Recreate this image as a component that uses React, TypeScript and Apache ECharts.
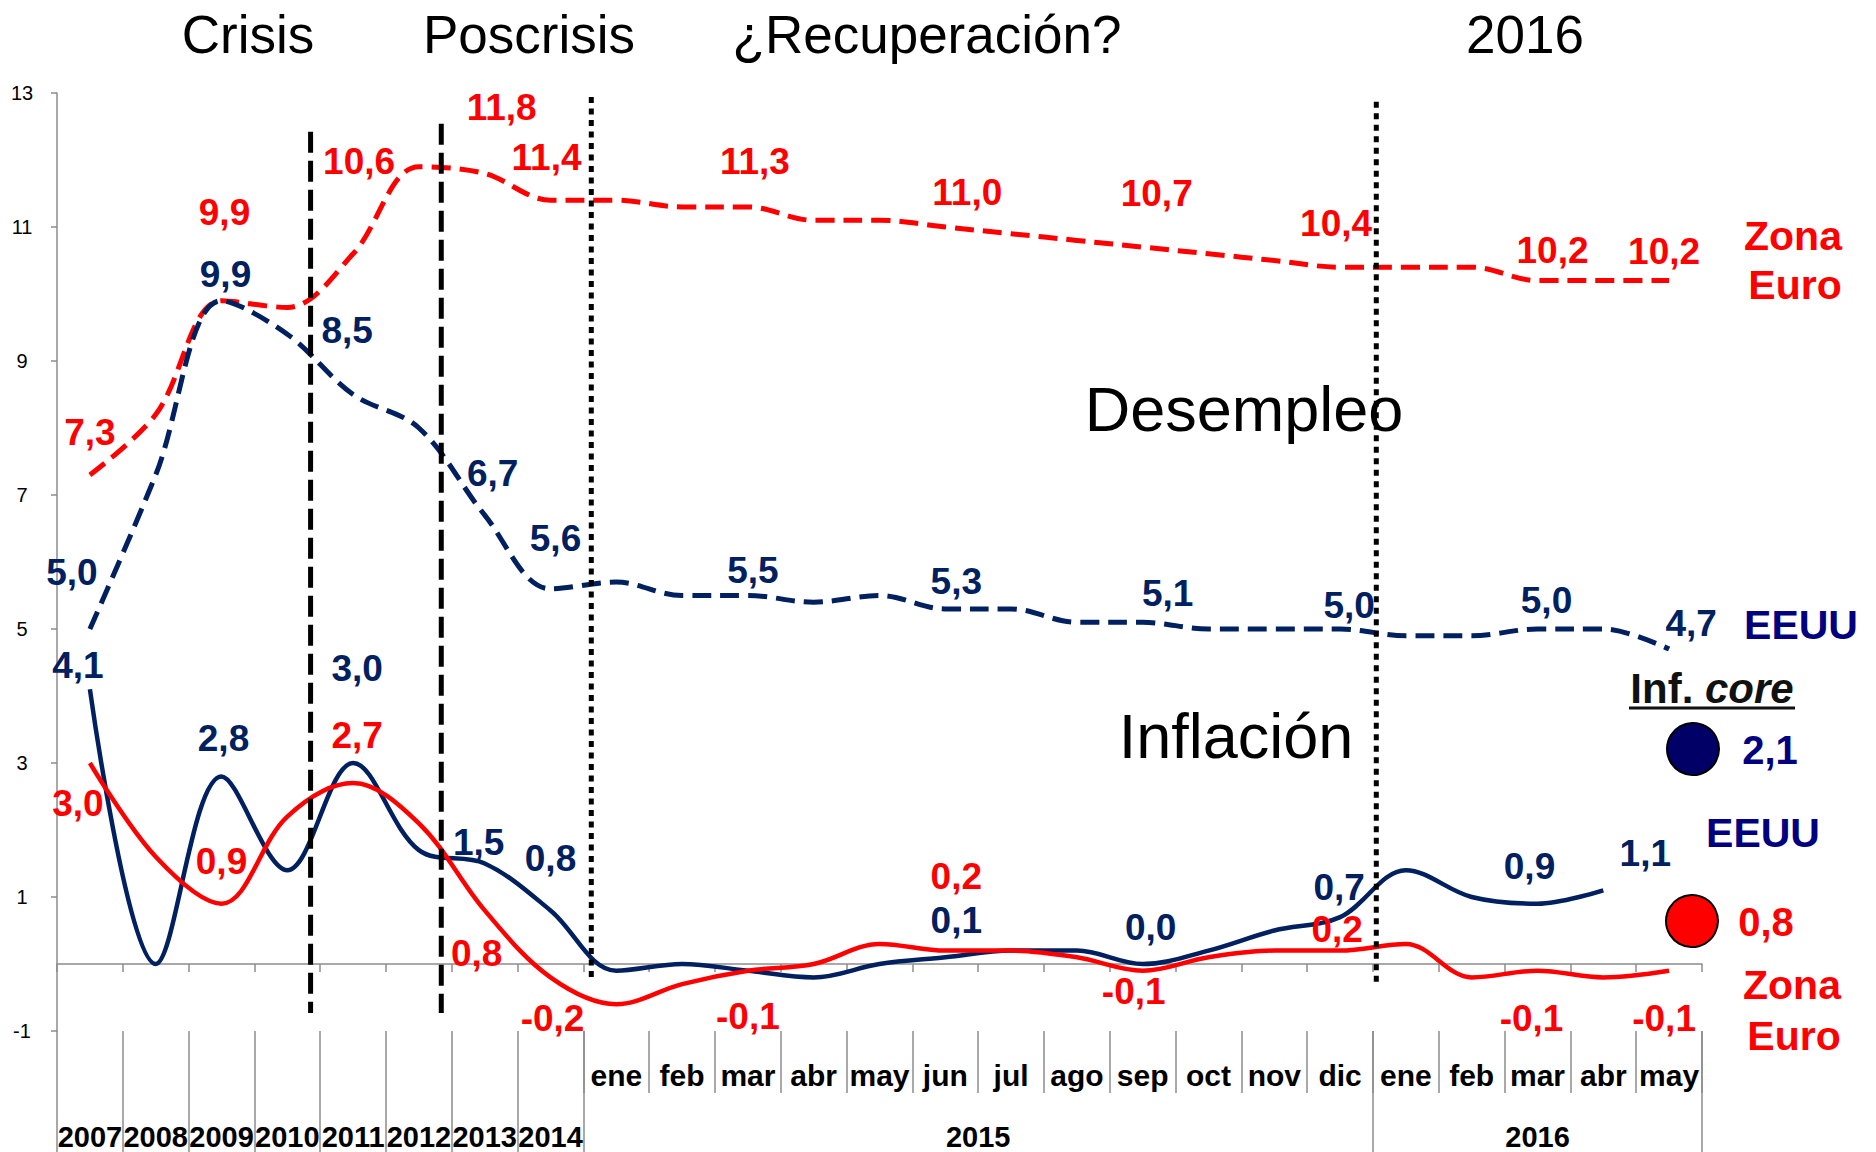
import React, { useEffect, useRef } from 'react';
import * as echarts from 'echarts';

// ---------- categories & tick labels ----------
const yearCategories = ['2007', '2008', '2009', '2010', '2011', '2012', '2013', '2014'];
const months2015 = ['ene', 'feb', 'mar', 'abr', 'may', 'jun', 'jul', 'ago', 'sep', 'oct', 'nov', 'dic'];
const months2016 = ['ene', 'feb', 'mar', 'abr', 'may'];
const categoryKeys = [
  ...yearCategories,
  ...months2015.map((m) => m + ' 2015'),
  ...months2016.map((m) => m + ' 2016'),
];
const monthRowLabels = [...yearCategories.map(() => ''), ...months2015, ...months2016];
const yearRowLabels = ['2007', '2008', '2009', '2010', '2011', '2012', '2013', '2014', '2015', '2016'];
const yearRowPositions = [0, 1, 2, 3, 4, 5, 6, 7, 13.5, 22];
const yTickValues = [-1, 1, 3, 5, 7, 9, 11, 13];

// ---------- series values ----------
const unemploymentEuro = [7.3, 8.2, 9.9, 9.8, 10.6, 11.9, 11.8, 11.4, 11.4, 11.3, 11.3, 11.1, 11.1, 11.0, 10.9, 10.8, 10.7, 10.6, 10.5, 10.4, 10.4, 10.4, 10.2, 10.2, 10.2];
const unemploymentUS = [5.0, 7.3, 9.9, 9.4, 8.5, 8.0, 6.7, 5.6, 5.7, 5.5, 5.5, 5.4, 5.5, 5.3, 5.3, 5.1, 5.1, 5.0, 5.0, 5.0, 4.9, 4.9, 5.0, 5.0, 4.7];
const inflationUS = [4.1, 0.0, 2.8, 1.4, 3.0, 1.7, 1.5, 0.8, -0.1, 0.0, -0.1, -0.2, 0.0, 0.1, 0.2, 0.2, 0.0, 0.2, 0.5, 0.7, 1.4, 1.0, 0.9, 1.1, null];
const inflationEuro = [3.0, 1.6, 0.9, 2.2, 2.7, 2.1, 0.8, -0.2, -0.6, -0.3, -0.1, 0.0, 0.3, 0.2, 0.2, 0.1, -0.1, 0.1, 0.2, 0.2, 0.3, -0.2, -0.1, -0.2, -0.1];

// ---------- label placement (index -> pixel offset) ----------
const labelOffsetsUnempEuro: Record<number, [number, number]> = {
  0: [0, -42], 2: [3, -88], 4: [6, -92], 6: [17, -66], 7: [-4, -43], 10: [7, -45],
  13: [22, -35], 16: [14, -54], 19: [-4, -44], 22: [15, -30], 24: [-5, -29],
};
const labelOffsetsUnempUS: Record<number, [number, number]> = {
  0: [-18, -57], 2: [4, -26], 4: [-6, -64], 6: [8, -42], 7: [5, -50], 10: [5, -25],
  13: [11, -27], 16: [25, -29], 19: [9, -24], 22: [9, -29], 24: [22, -26],
};
const labelOffsetsInflUS: Record<number, [number, number]> = {
  0: [-12, -24], 2: [2, -38], 4: [4, -95], 6: [-6, -21], 7: [0, -52],
  13: [11, -37], 16: [8, -37], 19: [-1, -30], 22: [-8, -37], 23: [42, -37],
};
const labelOffsetsInflEuro: Record<number, [number, number]> = {
  0: [-12, 40], 2: [0, -42], 4: [4, -48], 6: [-8, 43], 7: [2, 41], 10: [0, 46],
  13: [11, -74], 16: [-9, 21], 19: [-3, -21], 22: [-6, 48], 24: [-5, 48],
};

// ---------- period dividers (x in category-index units, y in value units) ----------
const periodDividers = [
  { x: 3.354, top: 12.42, bottom: -0.73, kind: 'dashed' },
  { x: 5.34, top: 12.54, bottom: -0.73, kind: 'dashed' },
  { x: 7.62, top: 12.94, bottom: -0.22, kind: 'dotted' },
  { x: 19.55, top: 12.87, bottom: -0.28, kind: 'dotted' },
];

const RED = '#FF0000';
const NAVY = '#002060';
const NAVY2 = '#000080';
const GRAY = '#8c8c8c';
const FONT = 'Liberation Sans, Arial, sans-serif';

const fmt = (v: number) => v.toFixed(1).replace('.', ',');

function buildData(values: (number | null)[], offsets: Record<number, [number, number]>) {
  return values.map((v, i) => {
    if (v === null) return '-';
    if (offsets[i]) return { value: v, label: { show: true, offset: offsets[i] } };
    return v;
  });
}

function lineSeries(name: string, values: (number | null)[], offsets: Record<number, [number, number]>, color: string, dashed: boolean) {
  return {
    name,
    type: 'line',
    xAxisIndex: 0,
    yAxisIndex: 0,
    data: buildData(values, offsets),
    smooth: 0.35,
    symbol: 'circle',
    symbolSize: 2,
    showSymbol: true,
    showAllSymbol: true,
    silent: true,
    itemStyle: { color: 'rgba(0,0,0,0)' },
    lineStyle: dashed ? { color, width: 5, type: [19, 9] } : { color, width: 4.5 },
    label: {
      show: false,
      position: 'inside',
      formatter: (p: any) => fmt(Number(p.value)),
      fontFamily: FONT,
      fontWeight: 'bold',
      fontSize: 37,
      color,
      textBorderWidth: 0,
      textBorderColor: 'transparent',
    },
    emphasis: { disabled: true },
    z: 3,
  };
}

const dividerSeries = periodDividers.map((d) => ({
  type: 'line',
  xAxisIndex: 3,
  yAxisIndex: 0,
  data: [[d.x, d.top], [d.x, d.bottom]],
  symbol: 'none',
  showSymbol: false,
  silent: true,
  lineStyle:
    d.kind === 'dashed'
      ? { color: '#000', width: 5, type: [21, 8] }
      : { color: '#000', width: 5, type: [6, 5.5] },
  emphasis: { disabled: true },
  z: 4,
}));

const txt = (text: string, x: number, y: number, size: number, color: string, weight = 'normal') => ({
  type: 'text',
  x,
  y,
  silent: true,
  style: {
    text,
    fill: color,
    fontSize: size,
    fontFamily: FONT,
    fontWeight: weight,
    align: 'center',
    verticalAlign: 'middle',
  },
});

const option: any = {
  animation: false,
  backgroundColor: '#fff',
  grid: { left: 57, right: 174, top: 93, bottom: 121, containLabel: false, outerBoundsMode: 'none' },
  xAxis: [
    {
      type: 'category',
      data: categoryKeys,
      boundaryGap: true,
      axisLine: { show: true, onZero: true, lineStyle: { color: GRAY, width: 1.5 } },
      axisTick: { show: true, length: 8, interval: 0, lineStyle: { color: GRAY, width: 1.5 } },
      axisLabel: { show: false },
      splitLine: { show: false },
    },
    {
      type: 'category',
      data: categoryKeys,
      position: 'bottom',
      boundaryGap: true,
      axisLine: { show: false, onZero: false },
      axisTick: { show: true, length: 62, interval: (i: number) => i >= 8, lineStyle: { color: GRAY, width: 1.5 } },
      axisLabel: {
        show: true,
        interval: 0,
        margin: 29,
        formatter: (_v: string, i: number) => monthRowLabels[i],
        fontFamily: FONT,
        fontWeight: 'bold',
        fontSize: 30,
        lineHeight: 30,
        color: '#000',
      },
      splitLine: { show: false },
    },
    {
      type: 'category',
      data: categoryKeys,
      position: 'bottom',
      boundaryGap: true,
      axisLine: { show: false, onZero: false },
      axisTick: { show: true, length: 121, interval: (i: number) => i <= 8 || i === 20, lineStyle: { color: GRAY, width: 1.5 } },
      axisLabel: { show: false },
      splitLine: { show: false },
    },
    {
      type: 'value',
      min: -0.5,
      max: 24.5,
      position: 'bottom',
      axisLine: { show: false, onZero: false },
      axisTick: { show: false },
      splitLine: { show: false },
      axisLabel: {
        show: true,
        customValues: yearRowPositions,
        showMinLabel: true,
        showMaxLabel: true,
        hideOverlap: false,
        margin: 91,
        formatter: (v: number) => {
          const i = yearRowPositions.findIndex((p) => Math.abs(p - v) < 1e-6);
          return i >= 0 ? yearRowLabels[i] : '';
        },
        fontFamily: FONT,
        fontWeight: 'bold',
        fontSize: 29,
        lineHeight: 29,
        color: '#000',
      },
    },
  ],
  yAxis: [
    {
      type: 'value',
      min: -1,
      max: 13,
      interval: 1,
      axisLine: { show: true, onZero: false, lineStyle: { color: GRAY, width: 1.5 } },
      axisTick: { show: true, length: 6, customValues: yTickValues, lineStyle: { color: GRAY, width: 1.5 } },
      axisLabel: {
        show: true,
        customValues: yTickValues,
        showMinLabel: true,
        showMaxLabel: true,
        margin: 35,
        align: 'center',
        fontFamily: FONT,
        fontSize: 20,
        color: '#000',
      },
      splitLine: { show: false },
    },
  ],
  series: [
    lineSeries('Desempleo Zona Euro', unemploymentEuro, labelOffsetsUnempEuro, RED, true),
    lineSeries('Desempleo EEUU', unemploymentUS, labelOffsetsUnempUS, NAVY, true),
    lineSeries('Inflación EEUU', inflationUS, labelOffsetsInflUS, NAVY, false),
    lineSeries('Inflación Zona Euro', inflationEuro, labelOffsetsInflEuro, RED, false),
    ...dividerSeries,
  ],
  graphic: [
    txt('Crisis', 248, 34, 53, '#000'),
    txt('Poscrisis', 529, 34, 53, '#000'),
    txt('¿Recuperación?', 927, 34, 53, '#000'),
    txt('2016', 1525, 34, 53, '#000'),
    txt('Desempleo', 1244, 409, 63, '#000'),
    txt('Inflación', 1236, 736, 63, '#000'),
    txt('Zona', 1793, 236, 41, RED, 'bold'),
    txt('Euro', 1795, 285, 41, RED, 'bold'),
    txt('EEUU', 1801, 625, 41, NAVY2, 'bold'),
    {
      type: 'text',
      x: 1712,
      y: 688,
      silent: true,
      style: {
        text: '{a|Inf. }{b|core}',
        align: 'center',
        verticalAlign: 'middle',
        rich: {
          a: { fontFamily: FONT, fontWeight: 'bold', fontSize: 42, fill: '#111', color: '#111' },
          b: { fontFamily: FONT, fontWeight: 'bold', fontStyle: 'italic', fontSize: 42, fill: '#111', color: '#111' },
        },
      },
    },
    { type: 'line', silent: true, shape: { x1: 1629, y1: 708, x2: 1795, y2: 708 }, style: { stroke: '#111', lineWidth: 3 } },
    { type: 'circle', silent: true, shape: { cx: 1693, cy: 749, r: 26 }, style: { fill: '#000066', stroke: '#000', lineWidth: 2 } },
    txt('2,1', 1770, 750, 40, NAVY2, 'bold'),
    txt('EEUU', 1763, 833, 41, NAVY2, 'bold'),
    { type: 'circle', silent: true, shape: { cx: 1692, cy: 921, r: 26 }, style: { fill: RED, stroke: '#000', lineWidth: 2 } },
    txt('0,8', 1766, 922, 40, RED, 'bold'),
    txt('Zona', 1792, 985, 41, RED, 'bold'),
    txt('Euro', 1794, 1036, 41, RED, 'bold'),
  ],
};

export default function App() {
  const ref = useRef<HTMLDivElement>(null);
  useEffect(() => {
    if (!ref.current) return;
    const chart = echarts.init(ref.current, null, { renderer: 'svg' });
    chart.setOption(option);
    return () => {
      chart.dispose();
    };
  }, []);
  return (
    <div
      ref={ref}
      style={{ position: 'fixed', left: 0, top: 0, width: 1876, height: 1152, background: '#fff' }}
    />
  );
}
